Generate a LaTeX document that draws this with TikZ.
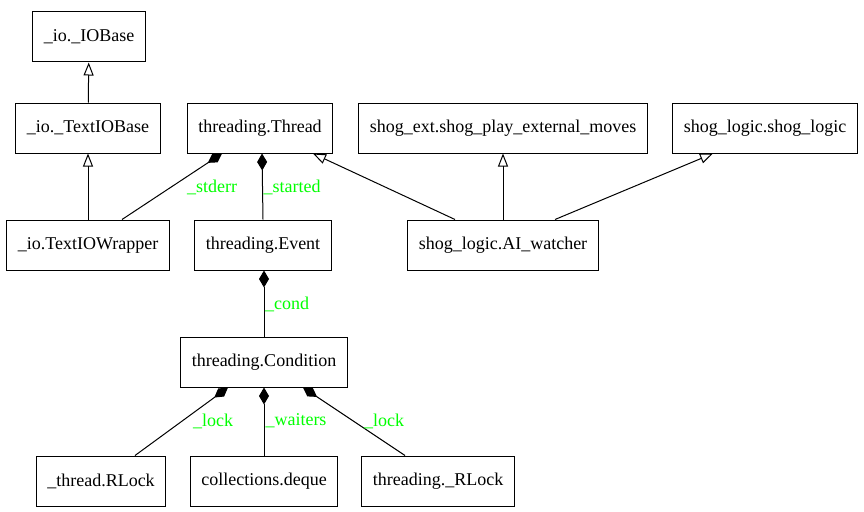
\documentclass[tikz,border=0pt]{standalone}
\usepackage{fontspec}
\setmainfont{Liberation Serif}
\usepackage{xcolor}
\usetikzlibrary{arrows.meta,calc}

\begin{document}
\begin{tikzpicture}[
  x=1pt, y=-1pt,
  every node/.style={font=\fontsize{18}{22}\selectfont},
  cls/.style={rectangle, draw, line width=1pt, minimum height=50pt, inner xsep=11pt},
  inherit/.style={draw, line width=1pt, -{Triangle[open, length=13pt, width=10pt]}},
  compose/.style={draw, line width=1pt, -{Diamond[length=17pt, width=10pt]}},
  role/.style={text=green, inner sep=0pt}
]
  \useasboundingbox (0,0) rectangle (864,511);

  % classes
  \node[cls] (iobase)    at (89,37)   {\_io.\_IOBase};
  \node[cls] (textiobase) at (88,128) {\_io.\_TextIOBase};
  \node[cls] (thread)    at (260,128) {threading.Thread};
  \node[cls] (shogext)   at (503,128) {shog\_ext.shog\_play\_external\_moves};
  \node[cls] (shoglogic) at (765,128) {shog\_logic.shog\_logic};
  \node[cls] (wrapper)   at (88,245)  {\_io.TextIOWrapper};
  \node[cls] (event)     at (263,245) {threading.Event};
  \node[cls] (watcher)   at (503,245) {shog\_logic.AI\_watcher};
  \node[cls] (cond)      at (264,362) {threading.Condition};
  \node[cls] (rlock)     at (101,481) {\_thread.RLock};
  \node[cls] (deque)     at (264,481) {collections.deque};
  \node[cls] (pyrlock)   at (438,481) {threading.\_RLock};

  % inheritance
  \draw[inherit] (textiobase) -- (iobase);
  \draw[inherit] (wrapper) -- (textiobase);
  \draw[inherit] ($(watcher.north)+(-48,0)$) -- ($(thread.south)+(53,0)$);
  \draw[inherit] (watcher) -- (shogext);
  \draw[inherit] ($(watcher.north)+(52,0)$) -- ($(shoglogic.south)+(-52,0)$);

  % composition
  \draw[compose] ($(wrapper.north)+(34,0)$) -- ($(thread.south)+(-38,0)$);
  \draw[compose] (event.north) -- ($(thread.south)+(2,0)$);
  \draw[compose] (cond.north) -- ($(event.south)+(1,0)$);
  \draw[compose] ($(rlock.north)+(34,0)$) -- ($(cond.south)+(-36,0)$);
  \draw[compose] (deque) -- (cond);
  \draw[compose] ($(pyrlock.north)+(-33,0)$) -- ($(cond.south)+(39,0)$);

  % roles
  \node[role] (stderr)  at (212,187) {\_stderr};
  \node[role] (started) at (292,187) {\_started};
  \node[role] (condlbl) at (287,304) {\_cond};
  \node[role] (lockA)   at (213,421) {\_lock};
  \node[role] (waiters) at (296,421) {\_waiters};
  \node[role] (lockB)   at (384,421) {\_lock};
\end{tikzpicture}
\end{document}
